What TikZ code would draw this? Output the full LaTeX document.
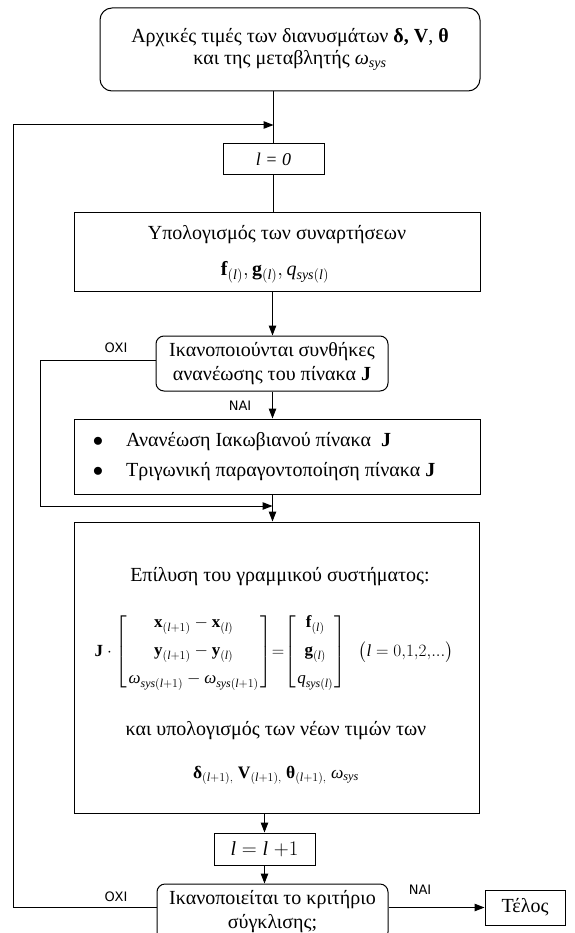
\documentclass[tikz,border=0pt]{standalone}
\usepackage{amsmath}
\usepackage{fontspec}
\setmainfont{Liberation Serif}
\newfontfamily\labfont{DejaVu Sans}
\usetikzlibrary{arrows.meta}
\newcommand\om{\text{\textit{ω}}}
\newcommand\il{\mathit{l}}
\tikzset{
  box/.style={draw, line width=1pt, inner sep=0pt, align=center, font=\fontsize{20}{24}\selectfont},
  rbox/.style={box, rounded corners=8pt},
  arr/.style={line width=1pt, -{Triangle[length=10pt,width=7.5pt]}},
  ln/.style={line width=1pt},
  lab/.style={font=\labfont\fontsize{13}{15}\selectfont, inner sep=0pt},
  txt/.style={font=\fontsize{20}{24}\selectfont, inner sep=0pt},
}
\begin{document}
\begin{tikzpicture}[x=1pt,y=-1pt]
\useasboundingbox (0,0) rectangle (574,933);
\clip (0,0) rectangle (574,933);
% nodes
\node[rbox, rounded corners=12pt, minimum width=380pt, minimum height=83pt, font=\fontsize{20}{22.5}\selectfont] (top) at (290,49.5)
  {Αρχικές τιμές των διανυσμάτων \textbf{δ, V}, \textbf{θ}\\ και της μεταβλητής \textit{ω}$_{\mathit{sys}}$};
\node[box, minimum width=101pt, minimum height=31pt, font=\fontsize{18}{22}\selectfont] (l0) at (273.5,159.5) {\textit{l = 0}};
\node[box, minimum width=406pt, minimum height=78pt] (calc) at (277,252) {};
\node[txt] (calc1) at (277,235) {Υπολογισμός των συναρτήσεων};
\node[txt] (calc2) at (275,272) {$\mathbf{f}_{(\il)},\mathbf{g}_{(\il)},\mathit{q}_{\mathit{sys}(\il)}$};
\node[rbox, minimum width=232pt, minimum height=55pt, font=\fontsize{20}{24}\selectfont] (dec1) at (272,363.5)
  {Ικανοποιούνται συνθήκες\\ανανέωσης του πίνακα \textbf{J}};
\node[box, minimum width=406pt, minimum height=75pt] (upd) at (277,456.5) {};
\node[txt] (b1) at (98,442) {$\bullet$};
\node[txt] (b2) at (98,472) {$\bullet$};
\node[txt, anchor=west] (u1) at (126,442) {Ανανέωση Ιακωβιανού πίνακα \ \textbf{J}};
\node[txt, anchor=west] (u2) at (126,472) {Τριγωνική παραγοντοποίηση πίνακα \textbf{J}};
\node[box, minimum width=405pt, minimum height=291pt] (solve) at (276.5,667.5) {};
\node[txt] (s1) at (280,577) {Επίλυση του γραμμικού συστήματος:};
\node[txt, font=\fontsize{17}{20}\selectfont] (s2) at (274,652)
  {\setlength\arraycolsep{1.5pt}$\mathbf{J}\cdot\left[\begin{array}{c}\mathbf{x}_{(\il+1)}-\mathbf{x}_{(\il)}\\[8pt] \mathbf{y}_{(\il+1)}-\mathbf{y}_{(\il)}\\[8pt] \om_{\mathit{sys}(\il+1)}-\om_{\mathit{sys}(\il+1)}\end{array}\right]\!{=}\!\left[\begin{array}{c}\,\mathbf{f}_{(\il)}\,\\[8pt]\mathbf{g}_{(\il)}\\[8pt] \mathit{q}_{\mathit{sys}(\il)}\end{array}\right]\;\;\bigl(\il=0{,}1{,}2{,}...\bigr)$};
\node[txt] (s3) at (276,731) {και υπολογισμός των νέων τιμών των};
\node[txt, font=\fontsize{17.5}{21}\selectfont] (s4) at (276,775) {\textbf{δ}$_{(\il+1),}$ \textbf{V}$_{(\il+1),}$ \textbf{θ}$_{(\il+1),}$ \textit{ω}$_{\mathit{sys}}$};
\node[box, minimum width=101pt, minimum height=32pt] (linc) at (264.5,849) {$\il=\il\;{+}1$};
\node[rbox, minimum width=231pt, minimum height=56pt, font=\fontsize{20}{24}\selectfont] (dec2) at (272.5,912)
  {Ικανοποιείται το κριτήριο\\σύγκλισης;};
\node[box, minimum width=80pt, minimum height=35pt] (end) at (525,907.5) {Τέλος};
% labels
\node[lab] (oxi1) at (116,348) {ΟΧΙ};
\node[lab] (nai1) at (240,406) {ΝΑΙ};
\node[lab] (oxi2) at (116,897) {ΟΧΙ};
\node[lab] (nai2) at (420,890) {ΝΑΙ};
% coordinates
\coordinate (loopA) at (13,907.5);
\coordinate (loopB) at (13,125);
\coordinate (loopC) at (273.5,125);
\coordinate (byA) at (40,360);
\coordinate (byB) at (40,506);
\coordinate (byC) at (272.5,506);
% connectors
\draw[ln] (top.south -| l0.north) -- (l0.north);
\draw[ln] (dec2.west |- loopA) -- (loopA) -- (loopB);
\draw[arr] (loopB) -- (loopC);
\draw[ln] (l0.south) -- (l0.south |- calc.north);
\draw[arr] (calc.south -| byC) -- (dec1.north -| byC);
\draw[arr] (dec1.south -| byC) -- (upd.north -| byC);
\draw[ln] (dec1.west |- byA) -- (byA) -- (byB);
\draw[arr] (byB) -- (byC);
\draw[arr] (upd.south -| byC) -- (solve.north -| byC);
\draw[arr] (solve.south -| linc.north) -- (linc.north);
\draw[arr] (linc.south) -- (linc.south |- dec2.north);
\draw[arr] (dec2.east |- end.west) -- (end.west);
\end{tikzpicture}
\end{document}
